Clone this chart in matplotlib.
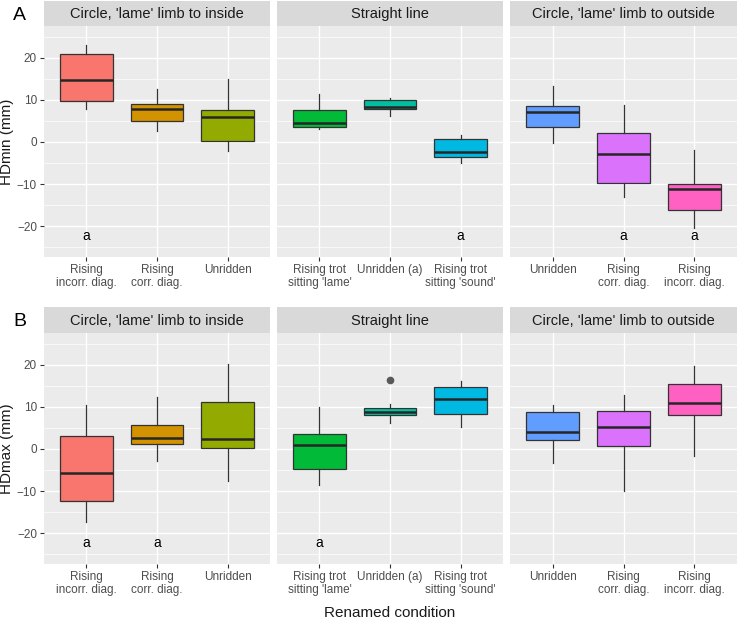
import numpy as np
import matplotlib
matplotlib.use("Agg")
import matplotlib.pyplot as plt

plt.rcParams['font.family'] = ['Liberation Sans', 'DejaVu Sans']

# facet titles and categories
facets = ["Circle, 'lame' limb to inside", "Straight line", "Circle, 'lame' limb to outside"]
cats_inside = ["Rising\nincorr. diag.", "Rising\ncorr. diag.", "Unridden"]
cats_straight = ["Rising trot\nsitting 'lame'", "Unridden (a)", "Rising trot\nsitting 'sound'"]
cats_outside = ["Unridden", "Rising\ncorr. diag.", "Rising\nincorr. diag."]
cats = [cats_inside, cats_straight, cats_outside]

cols_inside = ["#F8766D", "#D39200", "#93AA00"]
cols_straight = ["#00BA38", "#00C19F", "#00B9E3"]
cols_outside = ["#619CFF", "#DB72FB", "#FF61C3"]
cols = [cols_inside, cols_straight, cols_outside]

# HDmin (mm): whisker low, q1, median, q3, whisker high
hdmin_lo = [[7.8, 2.7, -2.1], [3.0, 6.2, -5.1], [-0.2, -13.1, -20.5]]
hdmin_q1 = [[9.8, 5.0, 0.2], [3.5, 7.8, -3.6], [3.5, -9.8, -16.2]]
hdmin_med = [[14.7, 7.8, 5.8], [4.6, 8.4, -2.5], [7.1, -2.9, -11.2]]
hdmin_q3 = [[20.9, 8.9, 7.5], [7.6, 10.0, 0.6], [8.6, 2.1, -10.1]]
hdmin_hi = [[23.0, 12.5, 15.0], [11.4, 10.4, 1.7], [13.3, 8.8, -1.9]]
hdmin_out = [[[], [], []], [[], [], []], [[], [], []]]
hdmin_letters = [["a", "", ""], ["", "", "a"], ["", "a", "a"]]

# HDmax (mm)
hdmax_lo = [[-17.3, -2.9, -7.7], [-8.6, 6.2, 5.2], [-3.3, -10.0, -1.7]]
hdmax_q1 = [[-12.3, 1.1, 0.2], [-4.8, 8.1, 8.4], [2.1, 0.8, 8.0]]
hdmax_med = [[-5.6, 2.6, 2.4], [0.9, 8.7, 11.8], [3.9, 5.3, 11.0]]
hdmax_q3 = [[3.1, 5.7, 11.1], [3.6, 9.6, 14.7], [8.7, 9.1, 15.5]]
hdmax_hi = [[10.4, 12.3, 20.2], [10.0, 10.6, 16.0], [10.5, 12.7, 19.7]]
hdmax_out = [[[], [], []], [[], [16.3], []], [[], [], []]]
hdmax_letters = [["a", "a", ""], ["a", "", ""], ["", "", ""]]

letter_y = -22.3

rows = [
    ("A", "HDmin (mm)", hdmin_lo, hdmin_q1, hdmin_med, hdmin_q3, hdmin_hi, hdmin_out, hdmin_letters),
    ("B", "HDmax (mm)", hdmax_lo, hdmax_q1, hdmax_med, hdmax_q3, hdmax_hi, hdmax_out, hdmax_letters),
]

W, H = 738, 621
fig = plt.figure(figsize=(W / 100, H / 100), dpi=100)

def px(x0, y0, x1, y1):
    return [x0 / W, 1 - y1 / H, (x1 - x0) / W, (y1 - y0) / H]

panel_x = [(44, 270), (277, 503), (510, 737)]
row_y = [(1, 26, 257), (307, 333, 564)]   # strip top, panel top, panel bottom

for r, (tag, ylab, lo, q1, med, q3, hi, outl, letters) in enumerate(rows):
    st, pt, pb = row_y[r]
    for f in range(3):
        x0, x1 = panel_x[f]
        # strip
        sax = fig.add_axes(px(x0, st, x1, pt))
        sax.set_facecolor("#D9D9D9")
        sax.set_xticks([]); sax.set_yticks([])
        for s in sax.spines.values():
            s.set_visible(False)
        sax.text(0.5, 0.48, facets[f], ha="center", va="center", fontsize=10.5, color="#1A1A1A",
                 transform=sax.transAxes)

        ax = fig.add_axes(px(x0, pt, x1, pb))
        ax.set_facecolor("#EBEBEB")
        for s in ax.spines.values():
            s.set_visible(False)

        stats = []
        for i in range(3):
            stats.append(dict(whislo=lo[f][i], q1=q1[f][i], med=med[f][i], q3=q3[f][i],
                              whishi=hi[f][i], fliers=outl[f][i]))
        bp = ax.bxp(stats, positions=[1, 2, 3], widths=0.75, patch_artist=True, showcaps=False,
                    manage_ticks=False,
                    boxprops=dict(edgecolor="#333333", linewidth=0.9),
                    medianprops=dict(color="#262626", linewidth=1.8),
                    whiskerprops=dict(color="#333333", linewidth=0.9),
                    flierprops=dict(marker="o", markerfacecolor="#595959", markeredgecolor="#595959",
                                    markersize=4.5))
        for patch, c in zip(bp["boxes"], cols[f]):
            patch.set_facecolor(c)
            patch.set_zorder(2)

        ax.set_xlim(0.4, 3.6)
        ax.set_ylim(-27.3, 27.5)
        ax.set_yticks([-20, -10, 0, 10, 20])
        ax.set_yticks([-25, -15, -5, 5, 15, 25], minor=True)
        ax.set_xticks([1, 2, 3])
        ax.set_xticklabels(cats[f], linespacing=1.15)
        ax.grid(True, which="major", color="white", linewidth=1.0)
        ax.grid(True, which="minor", axis="y", color="white", linewidth=0.5)
        ax.set_axisbelow(True)
        ax.tick_params(axis="both", which="major", length=3, color="#333333", labelsize=8.5,
                       labelcolor="#4D4D4D", pad=2)
        ax.tick_params(axis="both", which="minor", length=0)
        if f > 0:
            ax.tick_params(axis="y", which="major", labelleft=False, length=0)
        else:
            ax.set_ylabel(ylab, fontsize=11, color="#1A1A1A", labelpad=2)

        for i in range(3):
            if letters[f][i]:
                ax.text(i + 1, letter_y, letters[f][i], ha="center", va="center", fontsize=10,
                        color="black")

    fig.text(13 / W, 1 - (st + 15) / H, tag, fontsize=14, ha="left", va="center")

fig.text(390 / W, 1 - 613 / H, "Renamed condition", fontsize=11, ha="center", va="center",
         color="#1A1A1A")

fig.savefig("out.png", dpi=100, facecolor="white")
